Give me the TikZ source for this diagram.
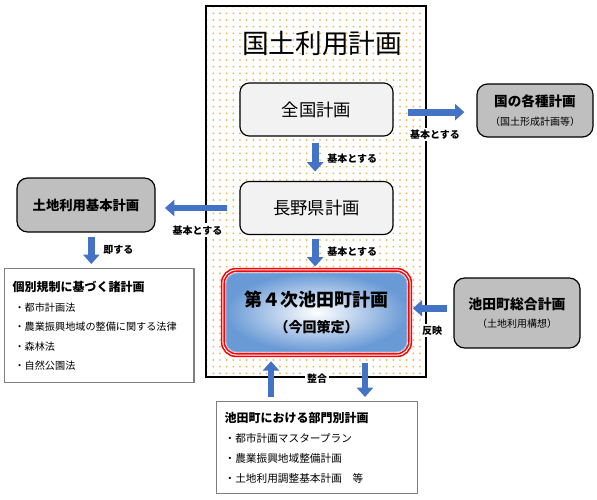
\documentclass[tikz,border=0pt]{standalone}
\usepackage{fontspec}
\setmainfont{Noto Sans CJK JP}
\usetikzlibrary{arrows.meta,positioning,calc,fit,patterns.meta}
\definecolor{planBlue}{HTML}{4472C4}
\definecolor{planGray}{HTML}{BFBFBF}
\definecolor{planLight}{HTML}{F2F2F2}
\definecolor{planDot}{HTML}{EEAE48}
\definecolor{planShade}{HTML}{6A9AD6}
\definecolor{planRing}{HTML}{9DC3E6}
\definecolor{frameline}{HTML}{7F7F7F}

\begin{document}
\begin{tikzpicture}[x=0.75pt,y=-0.75pt,
  lightbox/.style={draw,rounded corners=7pt,line width=0.9pt,fill=planLight,minimum width=114.8pt,minimum height=39.8pt,font=\fontsize{13pt}{16pt}\selectfont},
  graybox/.style={draw,rounded corners=8pt,line width=0.9pt,fill=planGray,align=center},
  listbox/.style={draw=frameline,line width=0.9pt,fill=white,anchor=north west,align=left,inner xsep=6pt},
  arrow/.style={-{Triangle[width=12pt,length=7pt]},line width=5.2pt,draw=planBlue},
  tag/.style={fill=white,inner sep=1.5pt,font=\bfseries\fontsize{7.5pt}{9pt}\selectfont}
]
\useasboundingbox (0,0) rectangle (597,500);
\draw[line width=0.8pt,preaction={fill=white},pattern={Dots[distance=5pt,radius=0.7pt]},pattern color=planDot] (206,6) rectangle (426,377);
\node[font=\fontsize{20pt}{24pt}\selectfont] (title) at (322,43) {国土利用計画};
\node[lightbox] (zenkoku) at (316.5,109.5) {全国計画};
\node[lightbox] (nagano) at (316.5,208) {長野県計画};
\node[graybox,minimum width=87pt,minimum height=39.8pt] (kuni) at (535,110.5)
  {{\bfseries\fontsize{10.2pt}{15pt}\selectfont 国の各種計画}\\[2pt]{\fontsize{7.5pt}{9pt}\selectfont （国土形成計画等）}};
\node[graybox,minimum width=103.5pt,minimum height=40.5pt,font=\bfseries\fontsize{10pt}{12pt}\selectfont] (tochi) at (86,205) {土地利用基本計画};
\node[graybox,minimum width=94.5pt,minimum height=52.5pt] (sougou) at (517,313)
  {{\bfseries\fontsize{10.4pt}{15pt}\selectfont 池田町総合計画}\\[2pt]{\fontsize{7.5pt}{9pt}\selectfont （土地利用構想）}};
\node[draw=planRing,line width=0.6pt,rounded corners=8pt,inner color=white,outer color=planShade,minimum width=135.8pt,minimum height=59.3pt,align=center] (plan4) at (316.5,312.5)
  {{\bfseries\fontsize{13.5pt}{20pt}\selectfont 第４次池田町計画}\\[7pt]{\bfseries\fontsize{10.5pt}{12pt}\selectfont （今回策定）}};
\node[draw=red,double=white,double distance=0.8pt,line width=1.2pt,rounded corners=10pt,inner sep=2pt,fit=(plan4)] (ring) {};
\node[listbox,text width=130pt,minimum height=85.5pt] (kobetsu) at (4,268)
  {{\bfseries\fontsize{9pt}{11pt}\selectfont 個別規制に基づく諸計画}\\[3pt]
  {\fontsize{7.6pt}{9pt}\selectfont\hspace{1.5pt}・都市計画法}\\[2.5pt]
  {\fontsize{7.6pt}{9pt}\selectfont\hspace{1.5pt}・農業振興地域の整備に関する法律}\\[2.5pt]
  {\fontsize{7.6pt}{9pt}\selectfont\hspace{1.5pt}・森林法}\\[2.5pt]
  {\fontsize{7.6pt}{9pt}\selectfont\hspace{1.5pt}・自然公園法}};
\node[listbox,text width=138.5pt,minimum height=69pt] (bumon) at (216,401)
  {{\bfseries\fontsize{9pt}{11pt}\selectfont 池田町における部門別計画}\\[3pt]
  {\fontsize{8pt}{9pt}\selectfont ・都市計画マスタープラン}\\[3pt]
  {\fontsize{8pt}{9pt}\selectfont ・農業振興地域整備計画}\\[3pt]
  {\fontsize{8pt}{9pt}\selectfont ・土地利用調整基本計画　等}};
\draw[arrow,shorten <=11pt,shorten >=9pt] ([yshift=-2pt]zenkoku.east) -- node[tag,below=9pt] {基本とする} ([yshift=-2pt]kuni.west |- zenkoku.east);
\draw[arrow,shorten <=5pt,shorten >=7pt] ([xshift=-1pt]zenkoku.south) -- node[tag,right=5pt] {基本とする} ([xshift=-1pt]nagano.north);
\draw[arrow,shorten <=3pt,shorten >=2pt] ([xshift=-1pt]nagano.south) -- node[tag,right=5pt] {基本とする} ([xshift=-1pt]ring.north);
\draw[arrow,shorten <=9pt,shorten >=7pt] (nagano.west) -- node[tag,below=9pt] {基本とする} (tochi.east |- nagano.west);
\draw[arrow,shorten <=3pt,shorten >=3pt] ([xshift=4pt]tochi.south) -- node[tag,right=5pt] {即する} ([xshift=4pt]tochi.south |- kobetsu.north);
\draw[arrow,shorten <=5pt,shorten >=1.5pt] ([yshift=3.5pt]sougou.west) -- node[tag,below=9pt] {反映} ([yshift=3.5pt]sougou.west -| ring.east);
\draw[arrow,shorten <=3pt,shorten >=4pt] (271,401) coordinate (upfoot) -- (upfoot |- ring.south);
\draw[arrow,shorten <=5pt,shorten >=3pt] (365,356) coordinate (downhead) -- (downhead |- bumon.north);
\node[tag] (seigou) at (317,379) {整合};
\end{tikzpicture}
\end{document}
